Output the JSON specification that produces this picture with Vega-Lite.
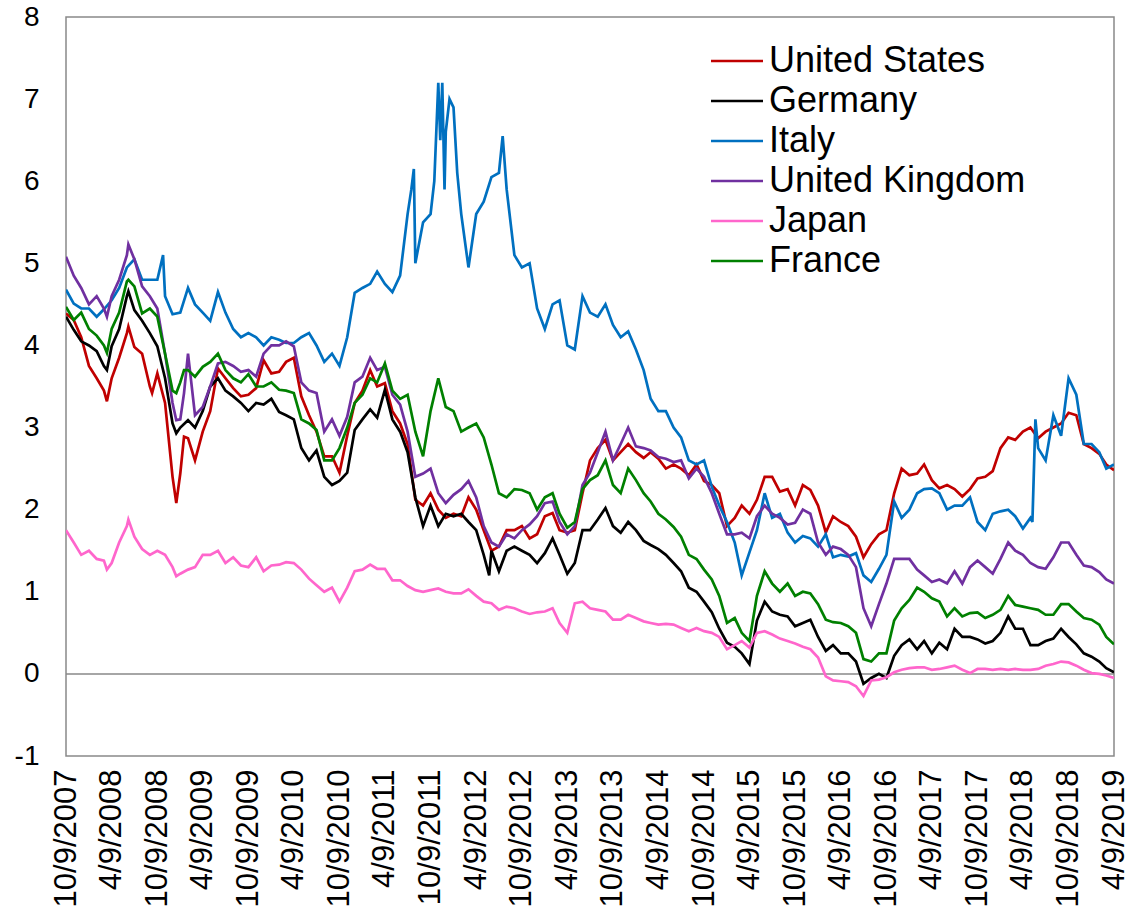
{
 "$schema": "https://vega.github.io/schema/vega-lite/v6.json",
 "width": 1048, "height": 739,
 "autosize": "none",
 "padding": {"left": 66, "top": 17, "right": 13, "bottom": 160},
 "background": "white",
 "config": {"view": {"stroke": "#898989", "strokeWidth": 1.5}, "font": "Liberation Sans"},
 "data": {"values": [
{"d":"2007-10-09","US":4.39,"DE":4.35,"IT":4.68,"UK":5.08,"JP":1.75,"FR":4.47},
{"d":"2007-11-09","US":4.31,"DE":4.19,"IT":4.51,"UK":4.85,"JP":1.6,"FR":4.31},
{"d":"2007-12-09","US":4.1,"DE":4.05,"IT":4.45,"UK":4.7,"JP":1.45,"FR":4.4},
{"d":"2008-01-09","US":3.75,"DE":4.0,"IT":4.45,"UK":4.5,"JP":1.5,"FR":4.2},
{"d":"2008-02-09","US":3.6,"DE":3.93,"IT":4.35,"UK":4.6,"JP":1.4,"FR":4.12},
{"d":"2008-03-09","US":3.45,"DE":3.75,"IT":4.44,"UK":4.45,"JP":1.38,"FR":4.0},
{"d":"2008-03-21","US":3.32,"DE":3.7,"UK":4.35,"JP":1.27,"FR":3.91},
{"d":"2008-04-09","US":3.6,"DE":3.99,"IT":4.55,"UK":4.6,"JP":1.35,"FR":4.2},
{"d":"2008-05-09","US":3.85,"DE":4.2,"IT":4.7,"UK":4.8,"JP":1.6,"FR":4.4},
{"d":"2008-06-09","US":4.15,"DE":4.6,"IT":4.95,"UK":5.1,"JP":1.8,"FR":4.78},
{"d":"2008-06-15","US":4.23,"DE":4.66,"UK":5.23,"JP":1.88,"FR":4.8},
{"d":"2008-07-09","US":3.98,"DE":4.43,"IT":5.05,"UK":5.05,"JP":1.67,"FR":4.72},
{"d":"2008-08-09","US":3.9,"DE":4.3,"IT":4.8,"UK":4.72,"JP":1.52,"FR":4.39},
{"d":"2008-09-09","US":3.5,"DE":4.15,"IT":4.8,"UK":4.6,"JP":1.45,"FR":4.45},
{"d":"2008-09-18","US":3.42},
{"d":"2008-10-09","US":3.66,"DE":3.99,"IT":4.8,"UK":4.45,"JP":1.5,"FR":4.35},
{"d":"2008-11-01","IT":5.1},
{"d":"2008-11-09","US":3.3,"DE":3.6,"IT":4.6,"UK":3.9,"JP":1.45,"FR":3.9},
{"d":"2008-12-09","US":2.4,"DE":3.05,"IT":4.38,"UK":3.3,"JP":1.3,"FR":3.45},
{"d":"2008-12-24","US":2.08,"DE":2.93,"UK":3.09,"JP":1.19,"FR":3.42},
{"d":"2009-01-09","US":2.44,"DE":3.0,"IT":4.4,"UK":3.1,"JP":1.22,"FR":3.55},
{"d":"2009-01-24","US":2.89,"UK":3.42,"FR":3.7},
{"d":"2009-02-09","US":2.87,"DE":3.09,"IT":4.7,"UK":3.9,"JP":1.27,"FR":3.7},
{"d":"2009-03-09","US":2.6,"DE":3.0,"IT":4.5,"UK":3.15,"JP":1.3,"FR":3.62},
{"d":"2009-04-09","US":2.95,"DE":3.2,"IT":4.4,"UK":3.25,"JP":1.45,"FR":3.74},
{"d":"2009-05-09","US":3.2,"DE":3.5,"IT":4.3,"UK":3.5,"JP":1.45,"FR":3.8},
{"d":"2009-06-09","US":3.72,"DE":3.6,"IT":4.65,"UK":3.78,"JP":1.5,"FR":3.9},
{"d":"2009-07-09","US":3.6,"DE":3.45,"IT":4.4,"UK":3.8,"JP":1.35,"FR":3.7},
{"d":"2009-08-09","US":3.48,"DE":3.38,"IT":4.2,"UK":3.75,"JP":1.42,"FR":3.6},
{"d":"2009-09-09","US":3.38,"DE":3.3,"IT":4.1,"UK":3.68,"JP":1.32,"FR":3.55},
{"d":"2009-10-09","US":3.4,"DE":3.2,"IT":4.15,"UK":3.7,"JP":1.3,"FR":3.65},
{"d":"2009-11-09","US":3.48,"DE":3.3,"IT":4.1,"UK":3.62,"JP":1.42,"FR":3.5},
{"d":"2009-12-09","US":3.82,"DE":3.28,"IT":4.0,"UK":3.9,"JP":1.25,"FR":3.5},
{"d":"2010-01-09","US":3.66,"DE":3.35,"IT":4.1,"UK":4.0,"JP":1.32,"FR":3.55},
{"d":"2010-02-09","US":3.68,"DE":3.19,"IT":4.07,"UK":4.0,"JP":1.33,"FR":3.46},
{"d":"2010-03-09","US":3.8,"DE":3.15,"IT":4.03,"UK":4.05,"JP":1.36,"FR":3.45},
{"d":"2010-04-09","US":3.85,"DE":3.1,"IT":4.03,"UK":3.99,"JP":1.35,"FR":3.42},
{"d":"2010-05-09","US":3.38,"DE":2.75,"IT":4.1,"UK":3.55,"JP":1.27,"FR":3.1},
{"d":"2010-06-09","US":3.15,"DE":2.6,"IT":4.15,"UK":3.45,"JP":1.16,"FR":3.05},
{"d":"2010-07-09","US":2.95,"DE":2.72,"IT":4.0,"UK":3.42,"JP":1.08,"FR":2.97},
{"d":"2010-08-09","US":2.65,"DE":2.4,"IT":3.8,"UK":2.95,"JP":1.0,"FR":2.6},
{"d":"2010-09-09","US":2.65,"DE":2.3,"IT":3.9,"UK":3.1,"JP":1.05,"FR":2.6},
{"d":"2010-10-09","US":2.45,"DE":2.35,"IT":3.75,"UK":2.9,"JP":0.88,"FR":2.75},
{"d":"2010-11-09","US":2.9,"DE":2.45,"IT":4.1,"UK":3.13,"JP":1.05,"FR":3.0},
{"d":"2010-12-09","US":3.3,"DE":2.97,"IT":4.64,"UK":3.55,"JP":1.25,"FR":3.3},
{"d":"2011-01-09","US":3.45,"DE":3.1,"IT":4.7,"UK":3.62,"JP":1.27,"FR":3.4},
{"d":"2011-02-09","US":3.7,"DE":3.22,"IT":4.75,"UK":3.85,"JP":1.33,"FR":3.6},
{"d":"2011-03-09","US":3.5,"DE":3.12,"IT":4.9,"UK":3.7,"JP":1.28,"FR":3.55},
{"d":"2011-04-09","US":3.54,"DE":3.46,"IT":4.75,"UK":3.74,"JP":1.28,"FR":3.78},
{"d":"2011-05-09","US":3.2,"DE":3.1,"IT":4.65,"UK":3.4,"JP":1.14,"FR":3.45},
{"d":"2011-06-09","US":3.05,"DE":2.95,"IT":4.85,"UK":3.28,"JP":1.14,"FR":3.35},
{"d":"2011-07-09","US":2.8,"DE":2.7,"IT":5.6,"UK":2.95,"JP":1.07,"FR":3.4},
{"d":"2011-07-24","IT":5.9},
{"d":"2011-08-03","IT":6.15},
{"d":"2011-08-09","US":2.12,"DE":2.15,"IT":5.0,"UK":2.4,"JP":1.02,"FR":2.95},
{"d":"2011-09-09","US":2.05,"DE":1.8,"IT":5.5,"UK":2.44,"JP":1.0,"FR":2.65},
{"d":"2011-10-09","US":2.2,"DE":2.05,"IT":5.6,"UK":2.5,"JP":1.02,"FR":3.2},
{"d":"2011-10-24","IT":6.0},
{"d":"2011-11-09","US":2.0,"DE":1.8,"IT":7.2,"UK":2.2,"JP":1.04,"FR":3.6},
{"d":"2011-11-17","IT":6.5},
{"d":"2011-11-25","IT":7.2},
{"d":"2011-12-04","IT":5.9},
{"d":"2011-12-09","US":1.9,"DE":1.95,"IT":6.6,"UK":2.08,"JP":1.0,"FR":3.25},
{"d":"2011-12-24","IT":7.0},
{"d":"2012-01-09","US":1.95,"DE":1.92,"IT":6.9,"UK":2.18,"JP":0.98,"FR":3.2},
{"d":"2012-01-24","IT":6.1},
{"d":"2012-02-09","US":1.92,"DE":1.95,"IT":5.6,"UK":2.25,"JP":0.98,"FR":2.95},
{"d":"2012-03-09","US":2.15,"DE":1.85,"IT":4.95,"UK":2.35,"JP":1.03,"FR":3.0},
{"d":"2012-04-09","US":2.0,"DE":1.75,"IT":5.6,"UK":2.15,"JP":0.95,"FR":3.05},
{"d":"2012-05-09","US":1.75,"DE":1.45,"IT":5.75,"UK":1.8,"JP":0.88,"FR":2.88},
{"d":"2012-05-31","DE":1.2},
{"d":"2012-06-09","US":1.5,"DE":1.5,"IT":6.05,"UK":1.6,"JP":0.86,"FR":2.55},
{"d":"2012-07-09","US":1.55,"DE":1.25,"IT":6.1,"UK":1.55,"JP":0.78,"FR":2.2},
{"d":"2012-07-24","IT":6.55},
{"d":"2012-08-09","US":1.75,"DE":1.5,"IT":5.9,"UK":1.7,"JP":0.82,"FR":2.15},
{"d":"2012-09-09","US":1.75,"DE":1.55,"IT":5.1,"UK":1.65,"JP":0.8,"FR":2.25},
{"d":"2012-10-09","US":1.8,"DE":1.5,"IT":4.95,"UK":1.75,"JP":0.76,"FR":2.24},
{"d":"2012-11-09","US":1.65,"DE":1.45,"IT":5.0,"UK":1.82,"JP":0.73,"FR":2.2},
{"d":"2012-12-09","US":1.7,"DE":1.35,"IT":4.45,"UK":1.92,"JP":0.75,"FR":2.0},
{"d":"2013-01-09","US":1.92,"DE":1.47,"IT":4.2,"UK":2.08,"JP":0.76,"FR":2.15},
{"d":"2013-02-09","US":1.96,"DE":1.65,"IT":4.5,"UK":2.1,"JP":0.8,"FR":2.2},
{"d":"2013-03-09","US":1.75,"DE":1.45,"IT":4.55,"UK":1.85,"JP":0.62,"FR":1.95},
{"d":"2013-04-09","US":1.72,"DE":1.22,"IT":4.0,"UK":1.7,"JP":0.5,"FR":1.78},
{"d":"2013-05-09","US":1.75,"DE":1.35,"IT":3.95,"UK":1.8,"JP":0.86,"FR":1.85},
{"d":"2013-06-09","US":2.2,"DE":1.75,"IT":4.6,"UK":2.3,"JP":0.88,"FR":2.25},
{"d":"2013-07-09","US":2.6,"DE":1.75,"IT":4.4,"UK":2.45,"JP":0.8,"FR":2.36},
{"d":"2013-08-09","US":2.75,"DE":1.88,"IT":4.35,"UK":2.7,"JP":0.78,"FR":2.42},
{"d":"2013-09-09","US":2.85,"DE":2.02,"IT":4.5,"UK":2.95,"JP":0.76,"FR":2.6},
{"d":"2013-10-09","US":2.6,"DE":1.8,"IT":4.25,"UK":2.6,"JP":0.66,"FR":2.3},
{"d":"2013-11-09","US":2.7,"DE":1.72,"IT":4.1,"UK":2.8,"JP":0.66,"FR":2.2},
{"d":"2013-12-09","US":2.8,"DE":1.85,"IT":4.17,"UK":3.0,"JP":0.72,"FR":2.5},
{"d":"2014-01-09","US":2.7,"DE":1.75,"IT":3.95,"UK":2.77,"JP":0.68,"FR":2.36},
{"d":"2014-02-09","US":2.63,"DE":1.62,"IT":3.7,"UK":2.75,"JP":0.64,"FR":2.2},
{"d":"2014-03-09","US":2.7,"DE":1.57,"IT":3.35,"UK":2.72,"JP":0.62,"FR":2.1},
{"d":"2014-04-09","US":2.62,"DE":1.52,"IT":3.2,"UK":2.64,"JP":0.6,"FR":1.95},
{"d":"2014-05-09","US":2.5,"DE":1.45,"IT":3.2,"UK":2.62,"JP":0.61,"FR":1.88},
{"d":"2014-06-09","US":2.55,"DE":1.35,"IT":3.0,"UK":2.58,"JP":0.6,"FR":1.79},
{"d":"2014-07-09","US":2.5,"DE":1.25,"IT":2.88,"UK":2.6,"JP":0.56,"FR":1.67},
{"d":"2014-08-09","US":2.42,"DE":1.05,"IT":2.6,"UK":2.38,"JP":0.52,"FR":1.45},
{"d":"2014-09-09","US":2.55,"DE":1.0,"IT":2.55,"UK":2.5,"JP":0.56,"FR":1.4},
{"d":"2014-10-09","US":2.35,"DE":0.88,"IT":2.6,"UK":2.4,"JP":0.52,"FR":1.27},
{"d":"2014-11-09","US":2.3,"DE":0.75,"IT":2.28,"UK":2.2,"JP":0.5,"FR":1.15},
{"d":"2014-12-09","US":2.2,"DE":0.55,"IT":2.05,"UK":1.95,"JP":0.45,"FR":0.95},
{"d":"2015-01-09","US":1.8,"DE":0.38,"IT":1.85,"UK":1.7,"JP":0.3,"FR":0.62},
{"d":"2015-02-09","US":1.9,"DE":0.33,"IT":1.6,"UK":1.7,"JP":0.35,"FR":0.68},
{"d":"2015-03-09","US":2.05,"DE":0.25,"IT":1.2,"UK":1.72,"JP":0.4,"FR":0.5},
{"d":"2015-04-09","US":1.95,"DE":0.12,"IT":1.48,"UK":1.65,"JP":0.32,"FR":0.4},
{"d":"2015-05-09","US":2.12,"DE":0.65,"IT":1.75,"UK":1.92,"JP":0.5,"FR":0.95},
{"d":"2015-06-09","US":2.4,"DE":0.88,"IT":2.2,"UK":2.05,"JP":0.52,"FR":1.25},
{"d":"2015-07-09","US":2.4,"DE":0.76,"IT":1.9,"UK":1.95,"JP":0.48,"FR":1.1},
{"d":"2015-08-09","US":2.22,"DE":0.72,"IT":1.95,"UK":1.9,"JP":0.43,"FR":1.0},
{"d":"2015-09-09","US":2.25,"DE":0.7,"IT":1.72,"UK":1.82,"JP":0.4,"FR":1.1},
{"d":"2015-10-09","US":2.05,"DE":0.58,"IT":1.6,"UK":1.84,"JP":0.37,"FR":0.95},
{"d":"2015-11-09","US":2.3,"DE":0.62,"IT":1.68,"UK":2.0,"JP":0.33,"FR":1.0},
{"d":"2015-12-09","US":2.24,"DE":0.66,"IT":1.65,"UK":1.95,"JP":0.3,"FR":0.98},
{"d":"2016-01-09","US":2.05,"DE":0.45,"IT":1.55,"UK":1.6,"JP":0.2,"FR":0.85},
{"d":"2016-02-09","US":1.72,"DE":0.28,"IT":1.7,"UK":1.45,"JP":-0.03,"FR":0.66},
{"d":"2016-03-09","US":1.92,"DE":0.35,"IT":1.42,"UK":1.55,"JP":-0.08,"FR":0.63},
{"d":"2016-04-09","US":1.85,"DE":0.25,"IT":1.45,"UK":1.52,"JP":-0.09,"FR":0.62},
{"d":"2016-05-09","US":1.8,"DE":0.25,"IT":1.43,"UK":1.45,"JP":-0.1,"FR":0.58},
{"d":"2016-06-09","US":1.67,"DE":0.15,"IT":1.47,"UK":1.3,"JP":-0.15,"FR":0.5},
{"d":"2016-07-09","US":1.42,"DE":-0.12,"IT":1.2,"UK":0.8,"JP":-0.27,"FR":0.18},
{"d":"2016-08-09","US":1.58,"DE":-0.05,"IT":1.12,"UK":0.58,"JP":-0.08,"FR":0.15},
{"d":"2016-09-09","US":1.7,"DE":0.0,"IT":1.28,"UK":0.85,"JP":-0.07,"FR":0.25},
{"d":"2016-10-09","US":1.75,"DE":-0.05,"IT":1.45,"UK":1.1,"JP":-0.04,"FR":0.25},
{"d":"2016-11-09","US":2.2,"DE":0.22,"IT":2.1,"UK":1.4,"JP":0.02,"FR":0.65},
{"d":"2016-12-09","US":2.5,"DE":0.35,"IT":1.9,"UK":1.4,"JP":0.05,"FR":0.8},
{"d":"2017-01-09","US":2.42,"DE":0.42,"IT":2.0,"UK":1.4,"JP":0.07,"FR":0.9},
{"d":"2017-02-09","US":2.44,"DE":0.3,"IT":2.2,"UK":1.27,"JP":0.08,"FR":1.05},
{"d":"2017-03-09","US":2.55,"DE":0.4,"IT":2.25,"UK":1.2,"JP":0.08,"FR":1.0},
{"d":"2017-04-09","US":2.36,"DE":0.25,"IT":2.26,"UK":1.12,"JP":0.05,"FR":0.92},
{"d":"2017-05-09","US":2.26,"DE":0.38,"IT":2.2,"UK":1.15,"JP":0.06,"FR":0.88},
{"d":"2017-06-09","US":2.3,"DE":0.3,"IT":2.0,"UK":1.1,"JP":0.08,"FR":0.7},
{"d":"2017-07-09","US":2.25,"DE":0.55,"IT":2.05,"UK":1.25,"JP":0.1,"FR":0.8},
{"d":"2017-08-09","US":2.16,"DE":0.45,"IT":2.05,"UK":1.1,"JP":0.05,"FR":0.7},
{"d":"2017-09-09","US":2.25,"DE":0.45,"IT":2.15,"UK":1.3,"JP":0.01,"FR":0.74},
{"d":"2017-10-09","US":2.38,"DE":0.42,"IT":1.85,"UK":1.38,"JP":0.06,"FR":0.75},
{"d":"2017-11-09","US":2.4,"DE":0.37,"IT":1.75,"UK":1.3,"JP":0.06,"FR":0.68},
{"d":"2017-12-09","US":2.47,"DE":0.4,"IT":1.95,"UK":1.22,"JP":0.05,"FR":0.72},
{"d":"2018-01-09","US":2.75,"DE":0.5,"IT":1.98,"UK":1.4,"JP":0.06,"FR":0.78},
{"d":"2018-02-09","US":2.88,"DE":0.7,"IT":2.0,"UK":1.6,"JP":0.05,"FR":0.95},
{"d":"2018-03-09","US":2.85,"DE":0.55,"IT":1.92,"UK":1.5,"JP":0.06,"FR":0.84},
{"d":"2018-04-09","US":2.95,"DE":0.55,"IT":1.77,"UK":1.45,"JP":0.05,"FR":0.82},
{"d":"2018-05-09","US":3.0,"DE":0.35,"IT":1.9,"UK":1.35,"JP":0.05,"FR":0.8},
{"d":"2018-05-17","IT":1.85},
{"d":"2018-05-29","IT":3.1},
{"d":"2018-06-09","US":2.87,"DE":0.35,"IT":2.75,"UK":1.3,"JP":0.06,"FR":0.78},
{"d":"2018-07-09","US":2.95,"DE":0.4,"IT":2.6,"UK":1.28,"JP":0.1,"FR":0.72},
{"d":"2018-08-09","US":3.0,"DE":0.43,"IT":3.15,"UK":1.42,"JP":0.12,"FR":0.72},
{"d":"2018-09-09","US":3.05,"DE":0.55,"IT":2.9,"UK":1.6,"JP":0.15,"FR":0.85},
{"d":"2018-10-09","US":3.18,"DE":0.45,"IT":3.6,"UK":1.6,"JP":0.14,"FR":0.85},
{"d":"2018-11-09","US":3.15,"DE":0.36,"IT":3.4,"UK":1.45,"JP":0.1,"FR":0.76},
{"d":"2018-12-09","US":2.8,"DE":0.25,"IT":2.8,"UK":1.32,"JP":0.05,"FR":0.68},
{"d":"2019-01-09","US":2.75,"DE":0.21,"IT":2.8,"UK":1.3,"JP":0.01,"FR":0.66},
{"d":"2019-02-09","US":2.68,"DE":0.15,"IT":2.7,"UK":1.24,"JP":0.0,"FR":0.6},
{"d":"2019-03-09","US":2.55,"DE":0.07,"IT":2.5,"UK":1.15,"JP":-0.02,"FR":0.45},
{"d":"2019-04-09","US":2.48,"DE":0.02,"IT":2.55,"UK":1.1,"JP":-0.05,"FR":0.36}
 ]},
 "layer": [
  {
   "data": {"values": [{}]},
   "mark": {"type": "rule", "color": "#898989", "strokeWidth": 1.5},
   "encoding": {"y": {"datum": 0, "type": "quantitative"}}
  },
  {
   "transform": [
    {"fold": ["US", "DE", "IT", "UK", "JP", "FR"], "as": ["c", "v"]},
    {"filter": "isValid(datum.v)"}
   ],
   "mark": {"type": "line", "strokeWidth": 2.7, "clip": true},
   "encoding": {
    "x": {
     "field": "d", "type": "temporal",
     "scale": {"type": "utc", "domain": [{"year": 2007, "month": 10, "date": 9, "utc": true}, {"year": 2019, "month": 4, "date": 9, "utc": true}]},
     "axis": {
      "values": [
       {"year": 2007, "month": 10, "date": 9, "utc": true},
       {"year": 2008, "month": 4, "date": 9, "utc": true},
       {"year": 2008, "month": 10, "date": 9, "utc": true},
       {"year": 2009, "month": 4, "date": 9, "utc": true},
       {"year": 2009, "month": 10, "date": 9, "utc": true},
       {"year": 2010, "month": 4, "date": 9, "utc": true},
       {"year": 2010, "month": 10, "date": 9, "utc": true},
       {"year": 2011, "month": 4, "date": 9, "utc": true},
       {"year": 2011, "month": 10, "date": 9, "utc": true},
       {"year": 2012, "month": 4, "date": 9, "utc": true},
       {"year": 2012, "month": 10, "date": 9, "utc": true},
       {"year": 2013, "month": 4, "date": 9, "utc": true},
       {"year": 2013, "month": 10, "date": 9, "utc": true},
       {"year": 2014, "month": 4, "date": 9, "utc": true},
       {"year": 2014, "month": 10, "date": 9, "utc": true},
       {"year": 2015, "month": 4, "date": 9, "utc": true},
       {"year": 2015, "month": 10, "date": 9, "utc": true},
       {"year": 2016, "month": 4, "date": 9, "utc": true},
       {"year": 2016, "month": 10, "date": 9, "utc": true},
       {"year": 2017, "month": 4, "date": 9, "utc": true},
       {"year": 2017, "month": 10, "date": 9, "utc": true},
       {"year": 2018, "month": 4, "date": 9, "utc": true},
       {"year": 2018, "month": 10, "date": 9, "utc": true},
       {"year": 2019, "month": 4, "date": 9, "utc": true}
      ],
      "format": "%-m/%-d/%Y",
      "labelAngle": -90,
      "labelFontSize": 31,
      "labelFont": "Liberation Sans",
      "labelColor": "black",
      "labelPadding": 13,
      "labelOverlap": false,
      "labelBound": false,
      "labelFlush": false,
      "ticks": false,
      "domain": false,
      "grid": false,
      "title": null
     }
    },
    "y": {
     "field": "v", "type": "quantitative",
     "scale": {"domain": [-1, 8], "nice": false, "zero": false},
     "axis": {
      "values": [-1, 0, 1, 2, 3, 4, 5, 6, 7, 8],
      "labelExpr": "datum.value < 0 ? '-' + abs(datum.value) : '' + datum.value",
      "labelFontSize": 28,
      "labelFont": "Liberation Sans",
      "labelColor": "black",
      "labelPadding": 27,
      "labelOverlap": false,
      "labelFlush": false,
      "ticks": false,
      "domain": false,
      "grid": false,
      "title": null
     }
    },
    "color": {
     "field": "c", "type": "nominal",
     "scale": {"domain": ["US", "DE", "IT", "UK", "JP", "FR"], "range": ["#C00000", "#000000", "#0070C0", "#7030A0", "#FF66CC", "#008000"]},
     "legend": {
      "orient": "none",
      "legendX": 653,
      "legendY": 26,
      "title": null,
      "padding": 0,
      "labelFontSize": 36,
      "labelFont": "Liberation Sans",
      "labelColor": "black",
      "symbolType": "M-2.6,0H2.6",
      "symbolSize": 400,
      "symbolStrokeWidth": 2.5,
      "labelOffset": 14,
      "rowPadding": 4,
      "labelLimit": 400,
      "labelExpr": "{'US':'United States','DE':'Germany','IT':'Italy','UK':'United Kingdom','JP':'Japan','FR':'France'}[datum.label]"
     }
    }
   }
  }
 ]
}
